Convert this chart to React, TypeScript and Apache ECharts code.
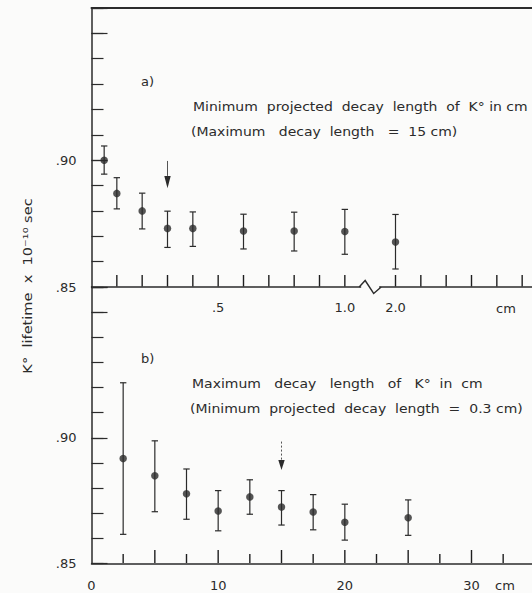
import React, { useEffect, useRef } from "react";
import * as echarts from "echarts";

// ---- Data ----
// Panel a): minimum projected decay length (cm) vs K0 lifetime (x 1e-10 s)
const topLengthCm = [0.05, 0.1, 0.2, 0.3, 0.4, 0.6, 0.8, 1.0, 2.0];
const topLifetime = [0.9, 0.8869, 0.88, 0.8731, 0.8731, 0.8721, 0.8721, 0.8719, 0.8677];
const topErrHigh = [0.9056, 0.8931, 0.887, 0.8799, 0.8796, 0.8787, 0.8795, 0.8806, 0.8786];
const topErrLow = [0.8945, 0.8808, 0.8729, 0.8656, 0.866, 0.865, 0.8642, 0.8629, 0.8571];

// Panel b): maximum decay length (cm) vs K0 lifetime
const bottomLengthCm = [2.5, 5, 7.5, 10, 12.5, 15, 17.5, 20, 25];
const bottomLifetime = [0.8918, 0.8849, 0.8777, 0.8709, 0.8765, 0.8725, 0.8705, 0.8664, 0.8682];
const bottomErrHigh = [0.9219, 0.8988, 0.8876, 0.879, 0.8833, 0.879, 0.8774, 0.8736, 0.8753];
const bottomErrLow = [0.8616, 0.8706, 0.8676, 0.863, 0.8696, 0.8653, 0.8634, 0.8593, 0.8612];

// Arrows marking the chosen cuts: [length, shaft start, head start, tip]
const topArrow = [0.3, 0.8997, 0.8938, 0.8889];
const bottomArrow = [15, 0.8985, 0.8912, 0.8872];

// Axis ticks / labels
const Y_MIN = 0.85;
const Y_MAX = 0.96;
const yLabelValues = [0.85, 0.9];
const topTickPositions = [1, 2, 3, 4, 5, 6, 7, 8, 9, 10, 12, 13, 14, 15, 16, 17];
const topLabelCm = [0.5, 1.0, 2.0];
const topLabelText = [".5", "1.0", "2.0"];
const topBreakCm = 1.5;
const bottomTickCm = [2.5, 5, 7.5, 10, 12.5, 15, 17.5, 20, 22.5, 25, 27.5, 30, 32.5, 35];
const bottomLabelValues = [0, 10, 20, 30];

// broken top axis: linear up to 1 cm, then a break, 2.0 cm sits two steps after 1.0
const toTopAxis = (cm: number) => (cm <= 1 ? cm * 10 : cm < 2 ? 11 : 12 + 2 * (cm - 2));

const INK = "#2b2b2b";
const BG = "#fbfbfa";
const FONT = "DejaVu Sans";

const errRender = (params: any, api: any) => {
  const x = api.value(0);
  const lo = api.coord([x, api.value(1)]);
  const hi = api.coord([x, api.value(2)]);
  const cap = 3.2;
  const st = { stroke: INK, lineWidth: 1.2 };
  return {
    type: "group",
    children: [
      { type: "line", shape: { x1: lo[0], y1: lo[1], x2: hi[0], y2: hi[1] }, style: st },
      { type: "line", shape: { x1: lo[0] - cap, y1: lo[1], x2: lo[0] + cap, y2: lo[1] }, style: st },
      { type: "line", shape: { x1: hi[0] - cap, y1: hi[1], x2: hi[0] + cap, y2: hi[1] }, style: st },
    ],
  };
};

const arrowRender = (dash: number[] | null) => (params: any, api: any) => {
  const x = api.value(0);
  const a = api.coord([x, api.value(1)]);
  const h = api.coord([x, api.value(2)]);
  const t = api.coord([x, api.value(3)]);
  const w = 3.2;
  return {
    type: "group",
    children: [
      {
        type: "line",
        shape: { x1: a[0], y1: a[1], x2: h[0], y2: h[1] },
        style: { stroke: "#555", lineWidth: 1, lineDash: dash || undefined },
      },
      {
        type: "polygon",
        shape: { points: [[h[0] - w, h[1]], [h[0] + w, h[1]], [t[0], t[1]]] },
        style: { fill: INK },
      },
    ],
  };
};

// one inward tick mark per data item, drawn as a thin filled polygon through the axis scale
const tickRender = (params: any, api: any) => {
  const p = api.coord([api.value(0), api.value(1)]);
  const len = api.value(2);
  const hw = 0.7;
  return {
    type: "polygon",
    shape: {
      points: [
        [p[0] - hw, p[1]],
        [p[0] - hw, p[1] - len],
        [p[0] + hw, p[1] - len],
        [p[0] + hw, p[1]],
      ],
    },
    style: { fill: "#1e1e1e" },
  };
};

const breakRender = (params: any, api: any) => {
  const b = api.coord([api.value(0), api.value(1)]);
  const cx = b[0];
  const cy = b[1];
  return {
    type: "group",
    children: [
      { type: "rect", shape: { x: cx - 9, y: cy - 2, width: 18, height: 4 }, style: { fill: BG } },
      {
        type: "polyline",
        shape: { points: [[cx - 11, cy], [cx - 5, cy - 6.5], [cx + 3.5, cy + 6.5], [cx + 11, cy]] },
        style: { stroke: INK, lineWidth: 1.4, fill: "none" },
      },
    ],
  };
};

const near = (a: number, b: number) => Math.abs(a - b) < 1e-6;

function makeYAxes(gridIndex: number) {
  const base = {
    type: "value" as const,
    gridIndex,
    position: "left" as const,
    min: Y_MIN,
    max: Y_MAX,
    splitLine: { show: false },
  };
  return [
    {
      ...base,
      interval: 0.01,
      axisLine: { show: true, lineStyle: { color: INK, width: 1.5 } },
      axisTick: { show: true, inside: true, length: 12, lineStyle: { color: INK, width: 1.2 } },
      axisLabel: { show: false },
    },
    {
      ...base,
      interval: 0.05,
      axisLine: { show: false },
      axisTick: { show: true, inside: true, length: 16, lineStyle: { color: INK, width: 1.2 } },
      axisLabel: {
        show: true,
        margin: 15,
        fontSize: 13,
        fontFamily: FONT,
        color: INK,
        formatter: (v: number) =>
          yLabelValues.some((y) => near(y, v)) ? "." + Math.round(v * 100) : "",
      },
    },
  ];
}

const textStyle = (text: string) => ({
  text,
  fontSize: 12.5,
  fontFamily: FONT,
  fill: INK,
  verticalAlign: "middle",
});

export default function App() {
  const ref = useRef<HTMLDivElement>(null);
  useEffect(() => {
    if (!ref.current) return;
    const chart = echarts.init(ref.current, null, { renderer: "svg" });
    const gridLeft = 91.5;
    const gridWidth = 456;
    const option: any = {
      animation: false,
      backgroundColor: BG,
      grid: [
        { left: gridLeft, top: 8, width: gridWidth, height: 279, outerBoundsMode: "none", containLabel: false },
        { left: gridLeft, top: 287, width: gridWidth, height: 276.5, outerBoundsMode: "none", containLabel: false },
      ],
      xAxis: [
        {
          type: "value",
          gridIndex: 0,
          min: 0,
          max: 18,
          position: "bottom",
          splitLine: { show: false },
          axisLine: { show: true, onZero: false, lineStyle: { color: INK, width: 1.5 } },
          axisTick: { show: false },
          axisLabel: {
            show: true,
            margin: 14,
            fontSize: 13,
            fontFamily: FONT,
            color: INK,
            customValues: topLabelCm.map(toTopAxis),
            formatter: (v: number) => {
              const i = topLabelCm.findIndex((c) => near(toTopAxis(c), v));
              return i >= 0 ? topLabelText[i] : "";
            },
          },
        },
        {
          type: "value",
          gridIndex: 0,
          min: 0,
          max: 18,
          position: "top",
          splitLine: { show: false },
          axisLine: { show: true, onZero: false, lineStyle: { color: INK, width: 2 } },
          axisTick: { show: false },
          axisLabel: { show: false },
        },
        {
          type: "value",
          gridIndex: 1,
          min: 0,
          max: 36,
          position: "bottom",
          splitLine: { show: false },
          axisLine: { show: true, onZero: false, lineStyle: { color: INK, width: 1.5 } },
          axisTick: { show: false },
          axisLabel: {
            show: true,
            margin: 15,
            fontSize: 13,
            fontFamily: FONT,
            color: INK,
            customValues: bottomLabelValues,
            formatter: (v: number) => String(v),
          },
        },
      ],
      yAxis: [...makeYAxes(0), ...makeYAxes(1)],
      series: [
        {
          type: "custom",
          xAxisIndex: 0,
          yAxisIndex: 0,
          renderItem: errRender,
          data: topLengthCm.map((c, i) => [toTopAxis(c), topErrLow[i], topErrHigh[i]]),
        },
        {
          type: "scatter",
          xAxisIndex: 0,
          yAxisIndex: 0,
          symbol: "circle",
          symbolSize: 7.5,
          itemStyle: { color: INK },
          data: topLengthCm.map((c, i) => [toTopAxis(c), topLifetime[i]]),
        },
        {
          type: "custom",
          xAxisIndex: 0,
          yAxisIndex: 0,
          renderItem: arrowRender(null),
          data: [[toTopAxis(topArrow[0]), topArrow[1], topArrow[2], topArrow[3]]],
        },
        {
          type: "custom",
          xAxisIndex: 2,
          yAxisIndex: 2,
          renderItem: errRender,
          data: bottomLengthCm.map((c, i) => [c, bottomErrLow[i], bottomErrHigh[i]]),
        },
        {
          type: "scatter",
          xAxisIndex: 2,
          yAxisIndex: 2,
          symbol: "circle",
          symbolSize: 7.5,
          itemStyle: { color: INK },
          data: bottomLengthCm.map((c, i) => [c, bottomLifetime[i]]),
        },
        {
          type: "custom",
          xAxisIndex: 2,
          yAxisIndex: 2,
          renderItem: arrowRender([2, 2]),
          data: [[bottomArrow[0], bottomArrow[1], bottomArrow[2], bottomArrow[3]]],
        },
        {
          type: "custom",
          xAxisIndex: 0,
          yAxisIndex: 0,
          clip: false,
          silent: true,
          z: 5,
          renderItem: breakRender,
          data: [[toTopAxis(topBreakCm), Y_MIN]],
        },
        {
          type: "custom",
          xAxisIndex: 0,
          yAxisIndex: 0,
          clip: false,
          silent: true,
          z: 6,
          renderItem: tickRender,
          data: topTickPositions.map((p) => [p, Y_MIN + 0.0002, 11.5]),
        },
        {
          type: "custom",
          xAxisIndex: 2,
          yAxisIndex: 2,
          clip: false,
          silent: true,
          z: 6,
          renderItem: tickRender,
          data: bottomTickCm.map((c) => [c, Y_MIN + 0.0002, c % 5 === 0 ? 13 : 9]),
        },
      ],
      graphic: [
        {
          type: "text",
          x: 27,
          y: 286,
          rotation: Math.PI / 2,
          scaleX: 1.12,
          style: {
            text: "K°  lifetime  x  10⁻¹⁰ sec",
            fontSize: 13,
            fontFamily: FONT,
            fill: INK,
            align: "center",
            verticalAlign: "middle",
          },
        },
        { type: "text", x: 141, y: 81, style: { ...textStyle("a)"), fontSize: 13 } },
        { type: "text", x: 141, y: 358, style: { ...textStyle("b)"), fontSize: 13 } },
        {
          type: "text",
          x: 193,
          y: 107,
          scaleX: 1.12,
          style: textStyle("Minimum  projected  decay  length  of  K° in cm"),
        },
        {
          type: "text",
          x: 191,
          y: 132,
          scaleX: 1.12,
          style: textStyle("(Maximum   decay  length   =  15 cm)"),
        },
        {
          type: "text",
          x: 192,
          y: 384,
          scaleX: 1.12,
          style: textStyle("Maximum   decay   length   of   K°  in  cm"),
        },
        {
          type: "text",
          x: 190,
          y: 409,
          scaleX: 1.12,
          style: textStyle("(Minimum  projected  decay  length  =  0.3 cm)"),
        },
        { type: "text", x: 506, y: 308, style: { ...textStyle("cm"), fontSize: 13, align: "center" } },
        { type: "text", x: 505, y: 585, style: { ...textStyle("cm"), fontSize: 13, align: "center" } },
      ],
    };
    chart.setOption(option);
    return () => chart.dispose();
  }, []);
  return (
    <div
      ref={ref}
      style={{ position: "fixed", left: 0, top: 0, width: 532, height: 593 }}
    />
  );
}
